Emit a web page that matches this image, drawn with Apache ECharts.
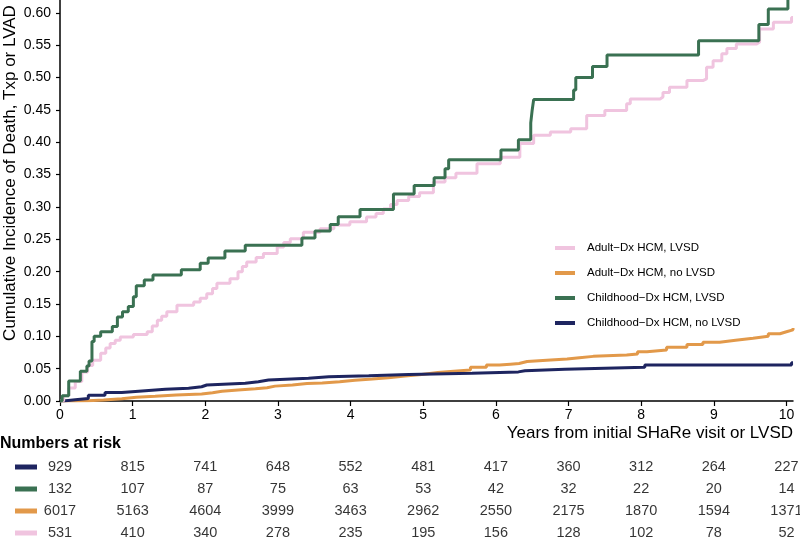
<!DOCTYPE html>
<html>
<head>
<meta charset="utf-8">
<script src="https://cdn.jsdelivr.net/npm/echarts@6/dist/echarts.min.js"></script>
<style>html,body{margin:0;padding:0;background:#fff}#c{width:800px;height:544px}</style>
</head>
<body>
<div id="c"></div>
<script>
// ---- data ----
const xTicks = [0,1,2,3,4,5,6,7,8,9,10];
const yTicks = [0,0.05,0.10,0.15,0.20,0.25,0.30,0.35,0.40,0.45,0.50,0.55,0.60];

const seriesNames = ['Adult\u2212Dx HCM, LVSD','Adult\u2212Dx HCM, no LVSD','Childhood\u2212Dx HCM, LVSD','Childhood\u2212Dx HCM, no LVSD'];

const childLvsdT = [0,0.03,0.12,0.28,0.37,0.40,0.44,0.47,0.56,0.72,0.79,0.86,0.94,1.01,1.05,1.16,1.28,1.67,1.93,2.04,2.27,2.55,3.33,3.51,3.72,3.83,4.13,4.59,4.875,5.15,5.30,5.35,6.07,6.31,6.48,6.50,6.52,7.07,7.10,7.33,7.53,8.79,9.62,9.75,10.02,10.09];
const childLvsdV = [0,0.008,0.031,0.046,0.054,0.062,0.092,0.100,0.107,0.115,0.130,0.138,0.146,0.161,0.178,0.187,0.195,0.203,0.213,0.221,0.232,0.241,0.252,0.263,0.273,0.285,0.296,0.320,0.333,0.345,0.359,0.373,0.388,0.404,0.430,0.450,0.466,0.481,0.500,0.517,0.535,0.557,0.582,0.606,0.630,0.630];

const adultLvsdT = [0,0.05,0.12,0.21,0.30,0.38,0.45,0.56,0.63,0.69,0.76,0.83,1.01,1.20,1.27,1.34,1.40,1.47,1.61,1.84,1.93,2.02,2.10,2.16,2.34,2.45,2.51,2.57,2.70,2.80,2.99,3.08,3.17,3.35,3.58,3.77,3.99,4.22,4.35,4.45,4.55,4.64,4.80,4.95,5.14,5.30,5.45,5.74,6.06,6.33,6.52,6.75,7.03,7.25,7.50,7.80,7.85,8.26,8.30,8.39,8.63,8.85,8.90,8.99,9.11,9.18,9.31,9.59,9.63,9.82,10.07,10.09];
const adultLvsdV = [0,0.008,0.020,0.030,0.045,0.055,0.063,0.074,0.082,0.089,0.094,0.099,0.103,0.107,0.116,0.125,0.131,0.138,0.148,0.153,0.159,0.166,0.174,0.182,0.189,0.200,0.208,0.215,0.222,0.228,0.238,0.245,0.251,0.261,0.2665,0.272,0.277,0.2845,0.290,0.297,0.304,0.310,0.316,0.322,0.3385,0.345,0.352,0.367,0.377,0.398,0.411,0.416,0.421,0.4415,0.449,0.4595,0.467,0.470,0.477,0.485,0.4955,0.498,0.516,0.526,0.537,0.545,0.552,0.555,0.575,0.5855,0.593,0.593];

const adultNoT = [0,0.2,0.39,0.6,0.85,1.05,1.31,1.6,1.95,2.1,2.23,2.45,2.69,2.85,2.96,3.2,3.4,3.61,3.85,4.06,4.3,4.52,4.75,4.98,5.2,5.42,5.65,5.87,6.05,6.20,6.32,6.43,6.7,6.98,7.15,7.34,7.80,7.95,8.08,8.35,8.63,8.85,9.08,9.3,9.54,9.75,9.91,10.0,10.09];
const adultNoV = [0,0.0005,0.0015,0.0035,0.0057,0.0072,0.0093,0.011,0.0128,0.015,0.017,0.019,0.0205,0.023,0.0247,0.027,0.028,0.0298,0.032,0.034,0.036,0.0386,0.041,0.044,0.046,0.0479,0.052,0.0556,0.057,0.058,0.061,0.063,0.065,0.067,0.069,0.071,0.0726,0.076,0.0787,0.083,0.0875,0.091,0.094,0.097,0.100,0.104,0.107,0.110,0.113];

const childNoT = [0,0.05,0.21,0.39,0.62,0.85,1.13,1.45,1.77,1.95,2.02,2.55,2.73,2.87,3.42,3.70,4.25,4.80,5.67,6.31,6.40,6.95,8.05,10.07,10.09];
const childNoV = [0,0.002,0.004,0.009,0.013,0.0154,0.018,0.0196,0.022,0.0247,0.0273,0.0298,0.0324,0.035,0.0375,0.039,0.041,0.0428,0.045,0.0468,0.049,0.052,0.0556,0.059,0.059];

// numbers at risk (rows top to bottom)
const riskRows = ['Childhood no LVSD','Childhood LVSD','Adult no LVSD','Adult LVSD'];
const riskChildNo = [929,815,741,648,552,481,417,360,312,264,227];
const riskChildLvsd = [132,107,87,75,63,53,42,32,22,20,14];
const riskAdultNo = [6017,5163,4604,3999,3463,2962,2550,2175,1870,1594,1371];
const riskAdultLvsd = [531,410,340,278,235,195,156,128,102,78,52];

// ---- styles ----
const C_PINK = '#f0c4df', C_ORANGE = '#e2994a', C_GREEN = '#3a7152', C_NAVY = '#1e2560';
const FONT = '"Liberation Sans", Arial, Helvetica, sans-serif';

const zip = (t, v) => t.map((x, i) => [x, v[i]]);
const riskData = [];
[riskChildNo, riskChildLvsd, riskAdultNo, riskAdultLvsd].forEach((row, r) => {
  row.forEach((n, i) => riskData.push([xTicks[i], r, n]));
});

const chart = echarts.init(document.getElementById('c'), null, {renderer: 'canvas'});
const XMAX = 10.09, YMAX = 0.62;
const swatchColors = [C_NAVY, C_GREEN, C_ORANGE, C_PINK];

chart.setOption({
  animation: false,
  backgroundColor: '#fff',
  textStyle: {fontFamily: FONT},
  title: {
    text: 'Numbers at risk', left: 0, top: 436, padding: 0,
    textStyle: {fontFamily: FONT, fontSize: 16, fontWeight: 'bold', color: '#000'}
  },
  legend: {
    orient: 'vertical', left: 555, top: 241, padding: 0,
    itemWidth: 20, itemHeight: 4, itemGap: 11, icon: 'rect',
    data: seriesNames,
    textStyle: {fontFamily: FONT, fontSize: 11.5, color: '#000', lineHeight: 14, padding: [0,0,0,7]}
  },
  grid: [
    {left: 60, right: 7, top: 0, height: 401},
    {left: 60, right: 7, top: 456, height: 93.3}
  ],
  xAxis: [
    {
      type: 'value', gridIndex: 0, min: 0, max: XMAX,
      name: 'Years from initial SHaRe visit or LVSD', nameLocation: 'end', nameGap: 0,
      nameTextStyle: {fontFamily: FONT, fontSize: 17, color: '#000', align: 'right', verticalAlign: 'top', padding: [24, 0, 0, 0]},
      axisLine: {show: true, lineStyle: {color: '#000', width: 1.5}},
      axisTick: {show: true, length: 5, lineStyle: {color: '#000', width: 1.2}, customValues: xTicks},
      axisLabel: {fontFamily: FONT, fontSize: 14, color: '#000', margin: 7, customValues: xTicks},
      splitLine: {show: false}
    },
    {
      type: 'value', gridIndex: 1, min: 0, max: XMAX, show: false
    }
  ],
  yAxis: [
    {
      type: 'value', gridIndex: 0, min: 0, max: YMAX,
      axisLine: {show: true, lineStyle: {color: '#000', width: 1.5}},
      axisTick: {show: true, length: 4, lineStyle: {color: '#000', width: 1.2}, customValues: yTicks},
      axisLabel: {fontFamily: FONT, fontSize: 14, color: '#000', margin: 9, customValues: yTicks,
        formatter: v => v.toFixed(2)},
      splitLine: {show: false}
    },
    {
      type: 'category', gridIndex: 1, data: riskRows, inverse: true,
      axisLine: {show: false}, axisTick: {show: false}, splitLine: {show: false},
      axisLabel: {
        margin: 23,
        formatter: (v, i) => '{s' + i + '|}',
        rich: {
          s0: {width: 22, height: 5, backgroundColor: swatchColors[0]},
          s1: {width: 22, height: 5, backgroundColor: swatchColors[1]},
          s2: {width: 22, height: 5, backgroundColor: swatchColors[2]},
          s3: {width: 22, height: 5, backgroundColor: swatchColors[3]}
        }
      }
    }
  ],
  graphic: [{
    type: 'text', x: 10, y: 173, rotation: Math.PI / 2,
    style: {text: 'Cumulative Incidence of Death, Txp or LVAD', font: '17px ' + FONT, fill: '#000', align: 'center', verticalAlign: 'middle'}
  }],
  series: [
    {name: seriesNames[1], type: 'line', step: 'end', showSymbol: false, symbol: 'none', data: zip(adultNoT, adultNoV),
      lineStyle: {color: C_ORANGE, width: 3}, itemStyle: {color: C_ORANGE}, z: 2},
    {name: seriesNames[3], type: 'line', step: 'end', showSymbol: false, symbol: 'none', data: zip(childNoT, childNoV),
      lineStyle: {color: C_NAVY, width: 3}, itemStyle: {color: C_NAVY}, z: 3},
    {name: seriesNames[0], type: 'line', step: 'end', showSymbol: false, symbol: 'none', data: zip(adultLvsdT, adultLvsdV),
      lineStyle: {color: C_PINK, width: 3}, itemStyle: {color: C_PINK}, z: 4},
    {name: seriesNames[2], type: 'line', step: 'end', showSymbol: false, symbol: 'none', data: zip(childLvsdT, childLvsdV),
      lineStyle: {color: C_GREEN, width: 3}, itemStyle: {color: C_GREEN}, z: 5},
    {name: 'risk', type: 'scatter', xAxisIndex: 1, yAxisIndex: 1, data: riskData, symbolSize: 1,
      itemStyle: {color: 'rgba(0,0,0,0)'}, silent: true,
      label: {show: true, position: 'inside', formatter: p => String(p.value[2]),
        fontFamily: FONT, fontSize: 14.5, color: '#000'}}
  ]
});
</script>
</body>
</html>
